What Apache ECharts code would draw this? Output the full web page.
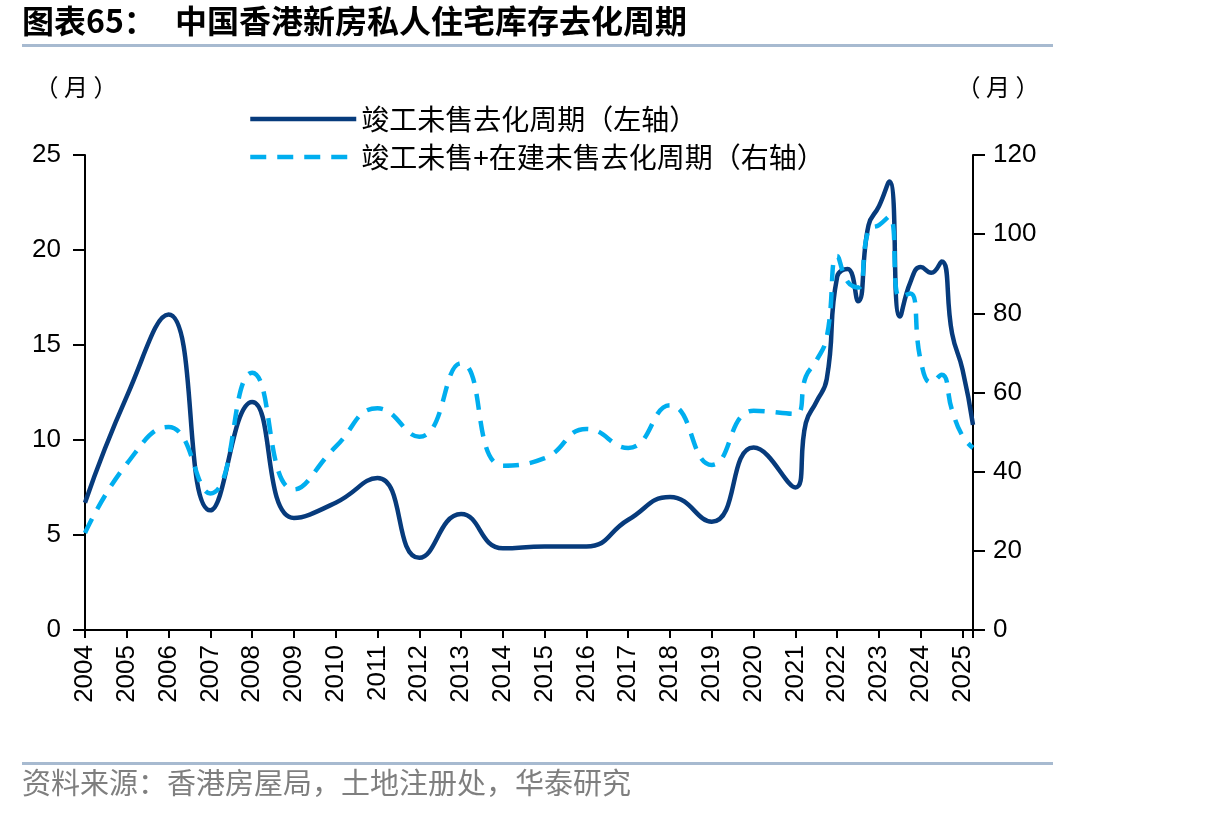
<!DOCTYPE html>
<html>
<head>
<meta charset="utf-8">
<script src="https://cdn.jsdelivr.net/npm/echarts@6/dist/echarts.min.js"></script>
<style>
html,body{margin:0;padding:0;background:#fff;}
#c{width:1206px;height:816px;}
</style>
</head>
<body>
<div id="c"></div>
<script>
// Time positions (years; annual through 2021, quarterly afterwards)
const timePoints = [2004,2005,2006,2007,2008,2009,2010,2011,2012,2013,2014,2015,2016,2017,2018,2019,2020,2021,
  2021.25,2021.5,2021.75,2022,2022.25,2022.5,2022.75,2023,2023.25,2023.5,2023.75,2024,2024.25,2024.5,2024.75,2025,2025.25];
// 竣工未售去化周期（左轴，月）
const completedUnsold = [6.7,12.3,16.6,6.3,12.0,5.9,6.7,8.0,3.8,6.1,4.3,4.4,4.4,5.8,7.0,5.7,9.6,7.5,
  10.9,12.0,13.2,18.6,19.0,17.3,21.3,22.3,23.6,16.5,18.3,19.1,18.8,19.4,15.6,13.7,10.8];
// 竣工未售+在建未售去化周期（右轴，月）
const totalUnsold = [24.5,42,51.3,34.5,65,35.5,46.3,56,48.8,67.4,41.5,43.4,50.8,46,56.8,41.7,55.4,54.6,
  64,68,74,94.5,88,86.5,101,102.3,104.5,84,85,68,62.5,64.5,55.5,49,46];
const seriesNames = ['竣工未售去化周期（左轴）','竣工未售+在建未售去化周期（右轴）'];
const titleText = '中国香港新房私人住宅库存去化周期';
const sourceText = '资料来源：香港房屋局，土地注册处，华泰研究';
const unitText = '（ 月 ）';

const cjk = '"Noto Sans CJK SC", sans-serif';
const num = '"Liberation Sans", Arial, sans-serif';

const chart = echarts.init(document.getElementById('c'), null, {renderer:'canvas'});
chart.setOption({
  animation:false,
  backgroundColor:'#fff',
  graphic:[
    {type:'text', left:22, top:5, style:{text:'图表65：', font:'bold 32px '+cjk, fill:'#000'}},
    {type:'text', left:175, top:5, style:{text:titleText, font:'bold 32px '+cjk, fill:'#000'}},
    {type:'rect', shape:{x:22,y:44,width:1031,height:3}, style:{fill:'#a7bad0'}},
    {type:'rect', shape:{x:22,y:762,width:1031,height:3}, style:{fill:'#a7bad0'}},
    {type:'text', left:22, top:768, style:{text:sourceText, font:'29px '+cjk, fill:'#7f7f7f'}}
  ],
  legend:{
    orient:'vertical', left:243, top:100, itemWidth:106, itemHeight:20, itemGap:10,
    itemStyle:{opacity:0},
    lineStyle:{width:4.5},
    textStyle:{fontFamily:cjk, fontSize:28, color:'#000'},
    data:seriesNames
  },
  grid:{left:85, right:233, top:155, bottom:186, containLabel:false},
  xAxis:{
    type:'value', min:2004, max:2025.25, interval:1,
    axisLine:{lineStyle:{color:'#000', width:2}},
    axisTick:{show:true, length:8, lineStyle:{color:'#000', width:2}},
    splitLine:{show:false},
    axisLabel:{rotate:90, fontFamily:num, fontSize:26, color:'#000', margin:15,
      formatter:function(v){return Number.isInteger(v)?String(v):'';}}
  },
  yAxis:[
    {type:'value', min:0, max:25, interval:5, position:'left',
     name:unitText, nameLocation:'end', nameGap:56,
     nameTextStyle:{fontFamily:cjk, fontSize:24, color:'#000', align:'center', padding:[0,0,0,-18]},
     axisLine:{show:true, lineStyle:{color:'#000', width:2}},
     axisTick:{show:true, length:12, lineStyle:{color:'#000', width:2}},
     splitLine:{show:false},
     axisLabel:{fontFamily:num, fontSize:26, color:'#000', margin:24}},
    {type:'value', min:0, max:120, interval:20, position:'right',
     name:unitText, nameLocation:'end', nameGap:56,
     nameTextStyle:{fontFamily:cjk, fontSize:24, color:'#000', align:'center', padding:[0,-50,0,0]},
     axisLine:{show:true, lineStyle:{color:'#000', width:2}},
     axisTick:{show:true, length:12, lineStyle:{color:'#000', width:2}},
     splitLine:{show:false},
     axisLabel:{fontFamily:num, fontSize:26, color:'#000', margin:20}}
  ],
  series:[
    {name:seriesNames[0], type:'line', yAxisIndex:0, smooth:0.5, symbol:'none',
     lineStyle:{color:'#073b7c', width:4.5}, itemStyle:{color:'#073b7c'},
     data:timePoints.map((t,i)=>[t, completedUnsold[i]])},
    {name:seriesNames[1], type:'line', yAxisIndex:1, smooth:0.5, symbol:'none',
     lineStyle:{color:'#00aeef', width:4.5, type:[16,11]}, itemStyle:{color:'#00aeef'},
     data:timePoints.map((t,i)=>[t, totalUnsold[i]])}
  ]
});
</script>
</body>
</html>
